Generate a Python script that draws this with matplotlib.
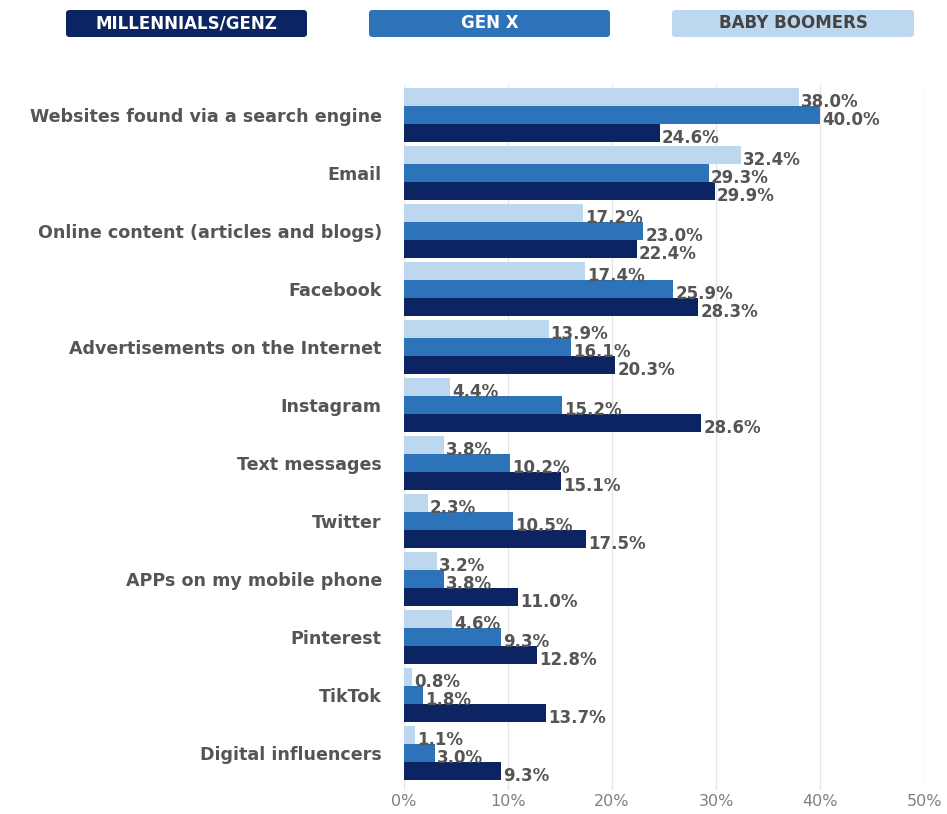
import matplotlib.pyplot as plt
from matplotlib.patches import FancyBboxPatch
import numpy as np

categories = ["Websites found via a search engine", "Email", "Online content (articles and blogs)",
              "Facebook", "Advertisements on the Internet", "Instagram", "Text messages", "Twitter",
              "APPs on my mobile phone", "Pinterest", "TikTok", "Digital influencers"]
boomers = [38.0, 32.4, 17.2, 17.4, 13.9, 4.4, 3.8, 2.3, 3.2, 4.6, 0.8, 1.1]
genx = [40.0, 29.3, 23.0, 25.9, 16.1, 15.2, 10.2, 10.5, 3.8, 9.3, 1.8, 3.0]
millennials = [24.6, 29.9, 22.4, 28.3, 20.3, 28.6, 15.1, 17.5, 11.0, 12.8, 13.7, 9.3]
series_names = ["MILLENNIALS/GENZ", "GEN X", "BABY BOOMERS"]
xticks = [0, 10, 20, 30, 40, 50]

c_dark = "#0c2461"
c_mid = "#2d73b9"
c_light = "#bdd7ee"
txt = "#555555"
font = ["DejaVu Sans"]

W, H = 947, 814
fig = plt.figure(figsize=(W / 100, H / 100), dpi=100)
ax = fig.add_axes([404 / W, 1 - 790 / H, (924 - 404) / W, (790 - 85) / H])

y = np.arange(len(categories))
bh = 0.305
step = 0.31
for vals, col, off in [(boomers, c_light, -step), (genx, c_mid, 0), (millennials, c_dark, step)]:
    ax.barh(y + off, vals, height=bh, color=col, zorder=3)
    for yi, v in zip(y, vals):
        ax.text(v + 0.2, yi + off + 0.08, f"{v:.1f}%", va="center", ha="left",
                fontsize=12, fontweight="bold", color=txt, family=font, zorder=4)

ax.set_xlim(0, 50)
ax.set_ylim(11.638, -0.517)
ax.set_xticks(xticks)
ax.set_xticklabels([f"{t}%" for t in xticks], fontsize=11.5, color="#808080", family=font)
ax.set_yticks(y)
ax.set_yticklabels(categories, fontsize=12.6, fontweight="bold", color=txt, family=font)
ax.tick_params(axis="both", length=0)
ax.tick_params(axis="y", pad=16)
ax.tick_params(axis="x", pad=3)
for s in ax.spines.values():
    s.set_visible(False)
ax.xaxis.grid(True, color="#e6e6e6", linewidth=1, zorder=0)
ax.set_axisbelow(True)

# legend boxes
boxes = [(66, 307, c_dark, "white"), (369, 610, c_mid, "white"), (672, 914, c_light, "#444444")]
for (x0, x1, fc, tc), name in zip(boxes, series_names):
    fx0, fx1 = x0 / W, x1 / W
    fy0, fy1 = 1 - 37 / H, 1 - 10 / H
    p = FancyBboxPatch((fx0, fy0), fx1 - fx0, fy1 - fy0,
                       boxstyle="round,pad=0,rounding_size=0.004",
                       transform=fig.transFigure, facecolor=fc, edgecolor="none")
    fig.patches.append(p)
    fig.text((fx0 + fx1) / 2, (fy0 + fy1) / 2, name, ha="center", va="center",
             fontsize=12, fontweight="bold", color=tc, family=font)

fig.savefig("out.png", dpi=100, facecolor="white")
